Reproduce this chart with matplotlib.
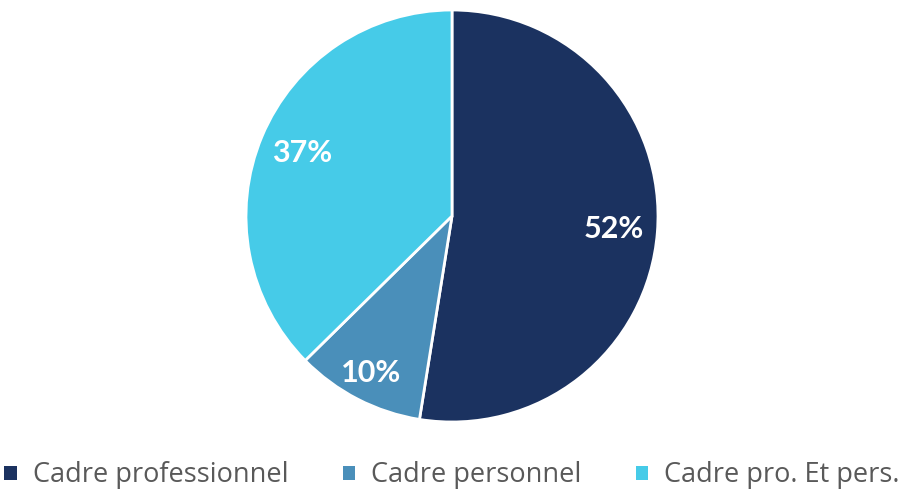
import matplotlib.pyplot as plt
from matplotlib.patches import Patch

labels = ["Cadre professionnel", "Cadre personnel", "Cadre pro. Et pers."]
values = [52, 10, 37]
colors = ["#1B3260", "#4A8FBA", "#46CBE8"]

total = sum(values)

fig = plt.figure(figsize=(9.04, 4.95), dpi=100)
ax = fig.add_axes([246 / 904, 73 / 495, 412 / 904, 412 / 495])

wedges, texts, autotexts = ax.pie(
    values,
    colors=colors,
    startangle=90,
    counterclock=False,
    autopct=lambda p: f"{p * total / 100:.0f}%",
    pctdistance=0.79,
    wedgeprops={"edgecolor": "white", "linewidth": 2},
    textprops={"color": "white", "fontsize": 22, "fontweight": "bold", "family": "Lato"},
)
# le 10% est un peu plus vers l'extérieur
x, y = autotexts[1].get_position()
autotexts[1].set_position((x * 0.86 / 0.79, y * 0.86 / 0.79))
ax.set_xlim(-1, 1)
ax.set_ylim(-1, 1)
ax.set_aspect("equal")

handles = [Patch(facecolor=c, edgecolor="none") for c in colors]
fig.legend(
    handles, labels,
    loc="lower center", bbox_to_anchor=(0.5, -0.038), ncol=3, frameon=False,
    prop={"family": "Open Sans", "size": 19.5},
    labelcolor="#595959",
    handlelength=0.45, handleheight=0.45, handletextpad=0.6, columnspacing=2.0,
)

fig.savefig("out.png", dpi=100)
